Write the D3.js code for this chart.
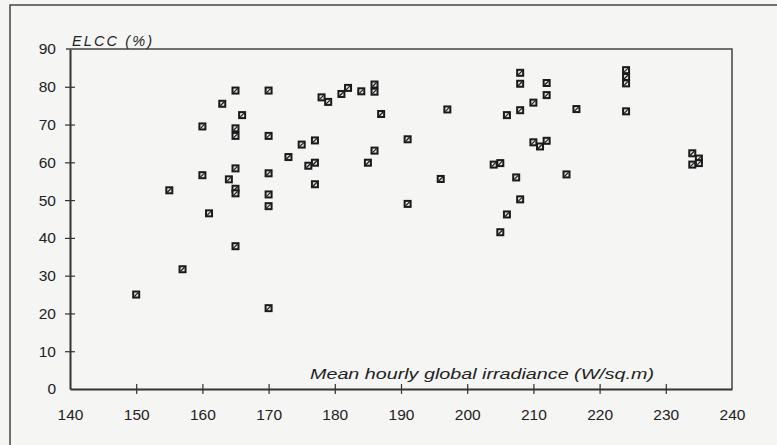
<!DOCTYPE html>
<meta charset="utf-8">
<head>
    <title>ELCC vs irradiance</title>
    <script src="https://cdn.jsdelivr.net/npm/d3@7"></script>
    <style>
        body { margin: 0; padding: 0; background: #f5f5f4; }
        text { font-family: "Liberation Sans", Arial, sans-serif; fill: #222; }
    </style>
</head>
<body>
<script>
    // data
    const irradiance = [150, 155, 157, 160, 160, 161, 163, 164, 165, 165, 165, 165, 165, 165, 165, 166,
        170, 170, 170, 170, 170, 170, 173, 175, 176, 177, 177, 177, 178, 179, 181, 182, 184, 185,
        186, 186, 186, 187, 191, 191, 196, 197, 204, 205, 205, 206, 206, 207.4, 208, 208, 208, 208,
        210, 210, 211, 212, 212, 212, 215, 216.5, 224, 224, 224, 224, 234, 235, 234, 235];
    const elcc = [25, 52.6, 31.7, 69.5, 56.6, 46.5, 75.5, 55.5, 79, 69, 67, 58.4, 53, 51.8, 37.8, 72.5,
        79, 67, 57.1, 51.5, 48.4, 21.4, 61.4, 64.7, 59.1, 59.9, 65.8, 54.2, 77.2, 76, 78.1, 79.7, 78.8, 59.9,
        80.6, 78.7, 63.1, 72.8, 66.1, 49, 55.6, 74, 59.4, 59.8, 41.5, 72.5, 46.2, 56, 83.7, 80.8, 73.8, 50.2,
        75.8, 65.3, 64.2, 65.7, 81, 77.8, 56.8, 74.1, 84.4, 82.6, 80.9, 73.5, 62.4, 61, 59.4, 59.8];
    const xTicks = [140, 150, 160, 170, 180, 190, 200, 210, 220, 230, 240];
    const yTicks = [0, 10, 20, 30, 40, 50, 60, 70, 80, 90];

    const width = 777, height = 445;
    const margin = {top: 49, right: 45, bottom: 56, left: 70};

    const svg = d3.select("body").append("svg")
        .attr("width", width)
        .attr("height", height);

    // outer frame of the figure (cut off at right and bottom)
    svg.append("rect")
        .attr("x", 10).attr("y", 5)
        .attr("width", width + 20).attr("height", height + 20)
        .attr("fill", "none").attr("stroke", "#444").attr("stroke-width", 1.5);

    const x = d3.scaleLinear().domain([140, 240]).range([margin.left, width - margin.right]);
    const y = d3.scaleLinear().domain([0, 90]).range([height - margin.bottom, margin.top]);

    // plot box (top + right)
    svg.append("path")
        .attr("d", `M${x(140) - 4},${y(90)}H${x(240)}V${y(0)}`)
        .attr("fill", "none").attr("stroke", "#444").attr("stroke-width", 1.5);

    const xAxis = svg.append("g")
        .attr("transform", `translate(0,${y(0)})`)
        .call(d3.axisBottom(x).tickValues(xTicks).tickSize(0).tickPadding(20));
    xAxis.select(".domain").attr("stroke", "#333").attr("stroke-width", 2);
    xAxis.selectAll(".tick line").attr("y1", -5).attr("y2", 5)
        .attr("stroke", "#333").attr("stroke-width", 1.2);
    xAxis.selectAll("text").attr("font-size", 15.5).attr("fill", "#222")
        .attr("font-family", "Liberation Sans, Arial, sans-serif");
    xAxis.selectAll(".tick").filter(d => d === 140 || d === 240).select("line").remove();

    const yAxis = svg.append("g")
        .attr("transform", `translate(${x(140)},0)`)
        .call(d3.axisLeft(y).tickValues(yTicks).tickSize(0).tickPadding(14));
    yAxis.select(".domain").attr("stroke", "#333").attr("stroke-width", 2);
    yAxis.selectAll(".tick line").attr("x1", -5).attr("x2", 5)
        .attr("stroke", "#333").attr("stroke-width", 1.2);
    yAxis.selectAll("text").attr("font-size", 15.5).attr("fill", "#222")
        .attr("font-family", "Liberation Sans, Arial, sans-serif");
    yAxis.selectAll(".tick").filter(d => d === 0 || d === 90).select("line").remove();

    // axis titles
    svg.append("text")
        .attr("x", 72).attr("y", 46)
        .attr("font-family", "DejaVu Sans, sans-serif")
        .attr("font-size", 14.5).attr("font-style", "italic")
        .attr("textLength", 80).attr("lengthAdjust", "spacing")
        .text("ELCC (%)");

    svg.append("text")
        .attr("x", 310).attr("y", 379)
        .attr("font-family", "DejaVu Sans, sans-serif")
        .attr("font-size", 15.5).attr("font-style", "italic")
        .attr("textLength", 344).attr("lengthAdjust", "spacingAndGlyphs")
        .text("Mean hourly global irradiance (W/sq.m)");

    // crossed-box markers
    const pts = irradiance.map((v, i) => ({x: v, y: elcc[i]}));
    const s = 8;
    const mk = svg.append("g").selectAll("g")
        .data(pts)
        .join("g")
        .attr("transform", d => `translate(${x(d.x)},${y(d.y)})`);
    mk.append("rect")
        .attr("x", -s / 2).attr("y", -s / 2).attr("width", s).attr("height", s)
        .attr("fill", "#1a1a1a");
    mk.append("rect")
        .attr("x", -2).attr("y", -2).attr("width", 4).attr("height", 4)
        .attr("fill", "#e6e6e6");
    mk.append("path")
        .attr("d", "M-2,2L2,-2")
        .attr("stroke", "#1a1a1a").attr("stroke-width", 1.2);
</script>
</body>
</html>
